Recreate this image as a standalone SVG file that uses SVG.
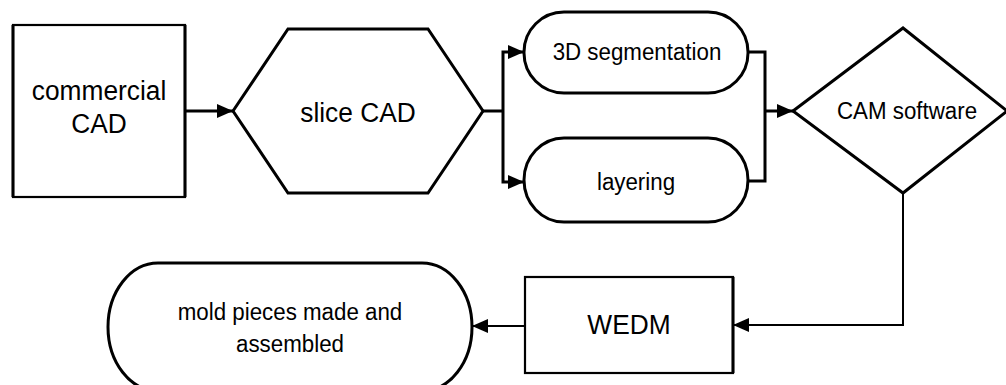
<svg xmlns="http://www.w3.org/2000/svg" width="1006" height="385" viewBox="0 0 1006 385">
<style>
.shape{fill:#fff;stroke:#000;stroke-width:3;stroke-linejoin:miter}
.thin{fill:#fff;stroke:#000;stroke-width:2.2}
.edge{fill:none;stroke:#000;stroke-width:3}
.edge2{fill:none;stroke:#000;stroke-width:2}
text{font-family:"Liberation Sans",Arial,sans-serif;fill:#000;text-anchor:middle}
.big{font-size:28px}
.mid{font-size:23.5px}
</style>
<defs>
<marker id="ah" markerUnits="userSpaceOnUse" markerWidth="20" markerHeight="18" refX="18" refY="9" orient="auto">
<path d="M2 2 L18 9 L2 16 Z" fill="#000"/>
</marker>
</defs>
<rect width="1006" height="385" fill="#fff"/>
<g id="commercial-cad">
<rect x="13" y="25" width="172" height="172" class="thin"/>
<path d="M13 25 V197 M185 25 V197" class="edge" stroke-width="4"/>
<g transform="matrix(0.94 0 0 1 99 0)">
<text class="big" x="0" y="100">commercial</text>
<text class="big" x="0" y="133">CAD</text>
</g>
</g>
<g id="slice-cad">
<polygon points="233,111 288,29 428,29 483,111 428,193 288,193" class="shape"/>
<g transform="matrix(0.94 0 0 1 358 0)"><text class="big" x="0" y="122">slice CAD</text></g>
</g>
<g id="segmentation">
<rect x="524" y="12" width="224" height="81" rx="40" ry="40" class="shape" stroke-width="2.5"/>
<g transform="matrix(0.95 0 0 1 637 0)"><text class="mid" x="0" y="60">3D segmentation</text></g>
</g>
<g id="layering">
<rect x="524" y="138" width="224" height="84" rx="40" ry="42" class="shape" stroke-width="2.5"/>
<g transform="matrix(0.95 0 0 1 636 0)"><text class="mid" x="0" y="190">layering</text></g>
</g>
<g id="cam-software">
<polygon points="793,111 903,28 1007,111 903,193" class="shape"/>
<g transform="matrix(0.95 0 0 1 907 0)"><text class="mid" x="0" y="119">CAM software</text></g>
</g>
<g id="wedm">
<rect x="525" y="277" width="208" height="96" class="thin"/>
<path d="M733 277 V373" class="edge" stroke-width="4"/>
<g transform="matrix(0.94 0 0 1 629 0)"><text class="big" x="0" y="334">WEDM</text></g>
</g>
<g id="mold-pieces">
<path d="M158 263 H422 A50 64 0 0 1 422 391 H158 A50 64 0 0 1 158 263 Z" class="shape" stroke-width="2.5"/>
<g transform="matrix(0.95 0 0 1 290 0)">
<text class="mid" x="0" y="320">mold pieces made and</text>
<text class="mid" x="0" y="352">assembled</text>
</g>
</g>
<g id="connectors">
<path d="M185 111 H233" class="edge" marker-end="url(#ah)"/>
<path d="M483 111 H503" class="edge"/>
<path d="M503 111 V52 H524" class="edge" marker-end="url(#ah)"/>
<path d="M503 111 V182 H524" class="edge" marker-end="url(#ah)"/>
<path d="M748 52 H765 V181 H748" class="edge"/>
<path d="M765 111 H793" class="edge" marker-end="url(#ah)"/>
<path d="M903 193 V325 H733" class="edge2" marker-end="url(#ah)"/>
<path d="M525 326 H472" class="edge2" marker-end="url(#ah)"/>
</g>
</svg>
